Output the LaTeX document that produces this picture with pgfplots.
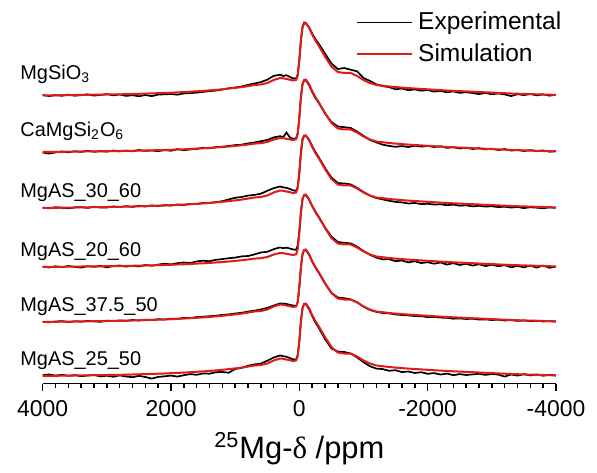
\documentclass[border=0pt]{standalone}
\usepackage{fontspec}
\setmainfont{Liberation Sans}
\newfontfamily\serifdelta{Liberation Serif}
\usepackage{pgfplots}
\usepackage{pgfplotstable}
\pgfplotsset{compat=1.18}

\definecolor{simred}{RGB}{225,25,25}

% x = chemical shift (ppm); sa, sb = simulated line shapes; e1..e6 = experimental
% heights in px above each trace's own baseline
\pgfplotstableread{
x sa sb e1 e2 e3 e4 e5 e6
4000 0.0 0.0 0.5 -0.5 0.3 0.4 0.2 0.8
3900 0.1 0.1 -0.6 -1.6 -0.4 -0.5 -0.3 1.5
3800 0.2 0.2 0.4 -0.4 0.8 0.7 0.5 0.4
3700 0.3 0.2 -0.3 0.6 0.2 -0.2 0.9 1.2
3600 0.4 0.3 0.9 -0.3 -0.3 1.0 0.0 0.2
3500 0.5 0.4 -0.2 0.8 0.6 0.1 0.7 0.9
3400 0.6 0.5 0.3 0.1 0.9 -0.6 0.3 -0.2
3300 0.7 0.6 1.2 1.2 0.1 0.8 1.1 0.5
3200 0.8 0.6 -0.1 0.2 1.3 0.2 0.6 1.0
3100 0.9 0.7 0.6 0.9 0.5 1.1 0.2 -0.4
3000 1.0 0.8 1.4 0.3 0.4 -0.3 1.3 0.3
2900 1.1 0.9 0.2 1.5 1.6 0.9 0.8 -0.8
2800 1.2 1.0 1.0 0.6 0.9 1.5 1.6 0.6
2700 1.3 1.0 -0.4 1.4 1.8 0.4 1.1 -0.5
2600 1.5 1.2 0.3 0.7 1.1 1.2 2.0 -1.2
2500 1.7 1.4 -0.8 2.0 2.2 0.6 1.5 0.2
2400 1.9 1.5 0.5 1.1 1.5 2.0 2.3 -1.0
2300 2.1 1.7 -0.6 1.6 2.6 1.3 2.0 -2.6
2200 2.3 1.8 0.9 0.8 2.0 2.4 2.8 -0.9
2100 2.5 2.0 1.2 1.9 2.9 3.3 2.5 -0.3
2000 2.8 2.2 1.5 1.2 2.4 2.6 3.4 0.4
1900 3.1 2.5 0.8 2.9 3.5 3.8 3.2 -0.6
1800 3.4 2.7 2.1 1.8 3.0 4.5 4.1 0.8
1700 3.8 3.0 2.4 2.6 4.1 3.9 4.0 1.9
1600 4.2 3.4 2.9 3.1 4.0 5.6 4.9 1.2
1500 4.6 3.7 3.6 4.3 5.0 6.3 5.3 2.6
1400 5.1 4.1 4.4 3.6 4.9 5.8 5.8 2.3
1300 5.6 4.5 4.9 4.9 5.9 7.2 6.3 3.8
1200 6.2 5.0 6.0 5.3 6.8 7.9 7.1 4.1
1100 6.9 5.5 7.2 6.0 8.6 8.8 7.6 3.2
1000 7.6 6.1 8.0 6.9 10.2 9.4 8.5 7.0
900 8.4 6.7 9.0 7.3 11.0 10.6 9.2 8.1
800 9.4 7.5 10.6 8.6 12.4 11.0 10.4 10.2
700 10.5 8.4 12.0 9.5 13.1 12.6 11.3 11.6
600 11.0 8.8 13.4 10.8 14.3 14.5 12.5 12.4
500 12.5 10.0 15.8 12.0 17.2 15.2 14.1 15.3
400 15.5 12.4 19.6 14.6 19.8 17.8 16.4 18.4
300 17.5 14.0 20.8 15.8 21.5 19.6 18.6 20.6
250 17.2 13.8 19.5 15.0 20.6 18.8 18.3 19.8
200 16.5 13.2 20.3 19.5 20.2 19.4 18.0 19.2
150 15.8 12.6 18.6 14.8 19.0 18.5 17.2 18.0
100 15.0 12.0 17.2 13.2 17.8 17.6 16.5 16.7
50 15.5 12.8 17.0 13.6 16.9 17.2 16.0 16.3
25 20 18 21 19 21 22 20 21
0 35 34 36 35 36 36 35 35
-25 55 55 56 55.5 56 55 55 55
-50 68 68 69 68 69 68 68 68
-75 72 72 73 71.5 72.5 72 72 72
-100 72.5 72.5 72.5 72 72.5 72 72 72
-150 68 68 68.5 67 68.5 67.5 67.5 67
-200 61 61 62 60 62 61 60.5 60
-250 55 55 56.5 54 56 55.5 54.5 53.5
-300 50 50 52 49.5 51 50.5 49.5 48.5
-400 39 39 42 38.5 40 39.5 38.5 37
-500 29 29 32 30 30.5 30.5 29.2 27.5
-600 23.5 23.5 26.5 25.5 25.0 25.0 24.5 24.5
-700 22.5 22.5 27.5 24.8 24.5 24.2 23.8 24.0
-800 22.5 22.5 25.8 24.0 23.6 23.6 22.6 22.5
-900 19.5 19.5 24.2 20.5 20.2 20.4 19.8 18.6
-1000 15.5 15.5 17.5 16.2 16.0 16.0 15.4 13.8
-1100 12.5 12.5 14.6 12.0 12.4 12.2 12.0 9.8
-1200 10.5 10.5 11.2 9.6 10.0 9.4 10.2 7.4
-1300 9.8 9.8 9.3 7.3 8.6 7.6 9.0 6.9
-1400 9.0 9.0 8.4 6.1 7.2 7.9 8.6 5.2
-1500 8.4 8.4 6.2 5.2 6.1 5.8 7.5 5.8
-1600 7.9 7.9 7.0 5.9 5.6 6.5 7.0 3.9
-1700 7.4 7.4 5.3 5.0 4.5 4.6 6.6 4.5
-1800 7.0 7.0 6.1 6.3 5.0 5.8 5.9 3.0
-1900 6.6 6.6 4.8 5.4 3.9 3.9 5.8 3.8
-2000 6.2 6.2 5.5 6.1 4.2 4.8 4.9 2.2
-2100 5.8 5.8 3.9 5.0 3.5 3.3 5.1 2.9
-2200 5.4 5.4 4.6 5.7 3.7 4.5 4.4 1.5
-2300 5.0 5.0 3.2 4.1 2.8 2.4 4.2 2.4
-2400 4.7 4.7 4.1 4.8 3.4 3.9 3.3 0.8
-2500 4.4 4.4 2.6 3.5 2.3 2.0 3.6 1.9
-2600 4.1 4.1 3.3 4.4 2.7 3.2 3.0 1.0
-2700 3.8 3.8 2.5 3.0 1.6 1.4 3.3 1.6
-2800 3.5 3.5 1.4 3.8 2.2 2.8 2.4 2.2
-2900 3.2 3.2 2.6 2.6 1.4 0.9 2.6 1.1
-3000 2.9 2.9 1.2 3.3 1.8 2.3 2.0 2.0
-3100 2.6 2.6 2.0 2.0 0.9 0.7 2.3 1.4
-3200 2.3 2.3 1.1 3.0 1.3 1.9 1.5 -0.6
-3300 2.0 2.0 -0.6 1.4 0.4 -0.3 1.9 1.5
-3400 1.8 1.8 1.3 2.2 1.0 1.2 1.1 0.4
-3500 1.6 1.6 0.4 1.0 -0.1 -0.4 1.5 1.8
-3600 1.4 1.4 1.5 1.9 0.8 1.5 0.8 0.6
-3700 1.2 1.2 0.2 0.8 0.3 -0.6 1.3 1.5
-3800 1.0 1.0 1.1 1.6 -0.2 1.4 0.5 0.3
-3900 0.8 0.8 -0.2 0.3 0.6 -0.8 1.0 1.2
-4000 0.6 0.6 0.7 0.9 0.1 0.5 0.4 0.5
}\spectra

\begin{document}
\begin{tikzpicture}[
    label node/.style={anchor=base west, font=\fontsize{10}{12}\selectfont, inner sep=0pt}
]
% page = 597 x 473 px at 0.5bp per px, axis origin at px (42.7, 383.5)
\useasboundingbox (-21.35bp,-44.75bp) rectangle (277.15bp,191.75bp);
\begin{axis}[
    at={(0,0)}, anchor=south west,
    scale only axis,
    width=256.65bp, height=191.75bp,
    x dir=reverse,
    xmin=-4000, xmax=4000,
    ymin=-7, ymax=376.5,
    axis x line*=bottom,
    axis y line=none,
    axis line style={line width=0.9bp},
    every tick/.style={black, line width=0.7bp},
    tick align=outside,
    major tick length=3.6bp,
    minor tick length=2.2bp,
    xtick={-4000,-2000,0,2000,4000},
    xticklabels={-4000,-2000,0,2000,4000},
    minor x tick num=9,
    ytick=\empty,
    x tick label style={font=\fontsize{11.5}{13}\selectfont, yshift=-1.5bp},
    xlabel={\textsuperscript{25}Mg-{\serifdelta δ} /ppm},
    xlabel style={font=\fontsize{15.5}{18}\selectfont, yshift=-1bp},
    clip=false,
    legend style={
        at={(0.61,0.98)}, anchor=north west,
        draw=none, fill=none,
        inner sep=0pt,
        font=\fontsize{12.3}{14.5}\selectfont,
        row sep=1.5bp,
        /tikz/every odd column/.append style={column sep=0.5bp},
        legend cell align=left
    },
    legend image code/.code={\draw[#1] (0bp,0bp) -- (27.5bp,0bp);},
    exp/.style={black, line width=0.85bp},
    sim/.style={simred, line width=1bp}
]
% MgSiO3
\addplot[exp] table[x=x, y expr=\thisrow{e1}+281] {\spectra};
\addplot[sim] table[x=x, y expr=\thisrow{sa}+281] {\spectra};
\legend{Experimental, Simulation}
% CaMgSi2O6
\addplot[exp, forget plot] table[x=x, y expr=\thisrow{e2}+224.5] {\spectra};
\addplot[sim, forget plot] table[x=x, y expr=\thisrow{sb}+224.5] {\spectra};
% MgAS_30_60
\addplot[exp, forget plot] table[x=x, y expr=\thisrow{e3}+168.5] {\spectra};
\addplot[sim, forget plot] table[x=x, y expr=\thisrow{sa}+168.5] {\spectra};
% MgAS_20_60
\addplot[exp, forget plot] table[x=x, y expr=\thisrow{e4}+109.5] {\spectra};
\addplot[sim, forget plot] table[x=x, y expr=\thisrow{sb}+109.5] {\spectra};
% MgAS_37.5_50
\addplot[exp, forget plot] table[x=x, y expr=\thisrow{e5}+54.5] {\spectra};
\addplot[sim, forget plot] table[x=x, y expr=\thisrow{sa}+54.5] {\spectra};
% MgAS_25_50
\addplot[exp, forget plot] table[x=x, y expr=\thisrow{e6}+0.5] {\spectra};
\addplot[sim, forget plot] table[x=x, y expr=\thisrow{sa}+0.5] {\spectra};

\node[label node] at (axis cs:4354,296.5) {MgSiO\textsubscript{3}};
\node[label node] at (axis cs:4354,240) {CaMgSi\textsubscript{2}O\textsubscript{6}};
\node[label node] at (axis cs:4354,178.5) {MgAS\_30\_60};
\node[label node] at (axis cs:4354,120.5) {MgAS\_20\_60};
\node[label node] at (axis cs:4354,65.5) {MgAS\_37.5\_50};
\node[label node] at (axis cs:4354,11.5) {MgAS\_25\_50};
\end{axis}
\end{tikzpicture}
\end{document}
